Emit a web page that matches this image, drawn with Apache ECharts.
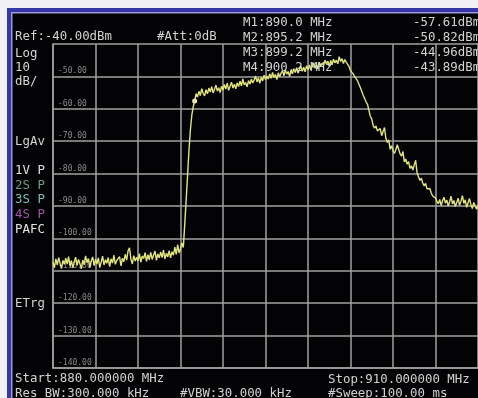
<!DOCTYPE html>
<html>
<head>
<meta charset="utf-8">
<script src="https://cdn.jsdelivr.net/npm/echarts@6/dist/echarts.min.js"></script>
<style>
  html, body { margin: 0; padding: 0; background: #f1f1f3; }
  #main { width: 478px; height: 398px; }
</style>
</head>
<body>
<div id="main"></div>
<script>
// sweep settings (MHz / dBm)
const startMHz = 880;
const stopMHz = 910;
const refLevel = -40;
const bottomLevel = -140;
const dbPerDiv = 10;
const mhzPerDiv = 3;

// trace, one value per sweep point (0.1 MHz apart)
const traceDbm = [
  // noise floor 880.0 - 889.1
  -107.4, -109.0, -106.3, -108.2, -105.9, -107.7, -109.3, -106.8, -108.0, -106.1,
  -107.9, -105.6, -108.6, -106.9, -109.1, -107.2, -105.8, -108.3, -106.5, -107.8,
  -109.4, -106.7, -108.1, -105.4, -107.5, -106.2, -108.9, -107.0, -105.7, -108.4,
  -106.4, -107.9, -106.0, -109.0, -107.3, -105.5, -108.2, -106.6, -107.7, -105.9,
  -108.7, -106.3, -107.6, -105.2, -108.0, -106.8, -107.4, -105.6, -108.5, -106.1,
  -107.2, -104.9, -106.7, -103.8, -102.9, -106.4, -107.9, -105.3, -107.0, -105.8,
  -106.9, -104.7, -107.3, -105.5, -106.2, -104.4, -107.1, -105.0, -106.6, -104.3,
  -106.5, -105.1, -103.9, -106.8, -104.8, -106.0, -104.2, -105.9, -103.6, -106.3,
  -104.6, -105.7, -103.8, -106.0, -104.1, -105.2, -102.7, -104.9, -101.9, -104.5,
  -103.2, -101.4,
  // rising edge 889.2 - 890.0
  -102.8, -95.6, -88.1, -80.4, -72.7, -66.4, -61.9, -59.3, -57.6,
  // channel 890.1 - 900.8
  -55.3, -56.4, -54.6, -55.9, -53.8, -55.2, -56.0, -54.1, -55.4, -53.6,
  -54.8, -53.2, -55.1, -54.0, -52.7, -54.5, -53.5, -55.0, -53.0, -54.2,
  -52.5, -53.9, -52.1, -54.3, -53.0, -51.8, -53.6, -52.4, -53.8, -52.0,
  -53.1, -51.5, -52.9, -50.8, -52.6, -51.9, -53.2, -51.3, -52.4, -50.9,
  -52.0, -51.1, -49.9, -51.7, -50.5, -52.1, -50.3, -51.4, -49.6, -51.0,
  -49.9, -50.82, -49.2, -50.6, -48.8, -50.3, -49.4, -51.0, -48.9, -50.1,
  -49.0, -48.2, -49.8, -47.9, -49.3, -48.5, -50.0, -48.1, -49.2, -47.6,
  -48.8, -47.3, -49.0, -47.8, -46.9, -48.4, -47.2, -48.6, -46.7, -47.9,
  -46.5, -48.0, -46.9, -45.8, -47.5, -46.3, -47.7, -45.6, -46.8, -45.9,
  -46.6, -44.96, -46.2, -45.3, -46.9, -45.1, -46.4, -44.7, -45.8, -45.0,
  -46.1, -43.89, -45.4, -44.5, -46.0, -44.8, -45.6, -46.3,
  // falling edge 900.9 - 907.0
  -47.0, -48.2, -47.6, -49.3, -50.1, -49.6, -51.4, -52.0, -53.5, -54.1,
  -55.8, -56.4, -57.9, -58.6, -60.5, -62.3, -63.1, -65.2, -66.0, -65.3,
  -66.8, -67.4, -66.1, -68.3, -67.0, -65.8, -69.2, -70.4, -69.6, -72.5,
  -71.4, -72.9, -73.8, -72.6, -71.1, -70.5, -73.9, -74.6, -73.2, -76.4,
  -75.5, -77.1, -76.3, -78.4, -77.6, -78.9, -77.3, -75.9, -79.8, -81.0,
  -82.1, -81.4, -82.9, -83.8, -83.0, -84.7, -85.3, -84.6, -86.0, -86.9,
  -86.3, -87.5,
  // upper floor 907.1 - 910.0
  -88.6, -89.3, -88.0, -89.9, -88.4, -87.3, -89.1, -88.2, -90.0, -88.7,
  -87.0, -89.4, -88.3, -90.2, -88.9, -87.6, -89.8, -88.5, -86.8, -89.2,
  -88.1, -90.4, -89.0, -87.7, -89.6, -90.8, -88.9, -89.9, -91.0, -89.7
];

const markerFreqs = [890.0, 895.2, 899.2, 900.2];
const markerDbm = [-57.61, -50.82, -44.96, -43.89];
const markerLabels = ["M1:890.0 MHz", "M2:895.2 MHz", "M3:899.2 MHz", "M4:900.2 MHz"];
const markerReadouts = ["-57.61dBm", "-50.82dBm", "-44.96dBm", "-43.89dBm"];

const sideLabels = [
  { text: "Log", y: 54, color: "#d4d4d4" },
  { text: "10", y: 68, color: "#d4d4d4" },
  { text: "dB/", y: 82, color: "#d4d4d4" },
  { text: "LgAv", y: 142, color: "#d4d4d4" },
  { text: "1V P", y: 171, color: "#e0e0e0" },
  { text: "2S P", y: 186, color: "#6f9a7c" },
  { text: "3S P", y: 200, color: "#7cbcb6" },
  { text: "4S P", y: 215, color: "#a452a8" },
  { text: "PAFC", y: 230, color: "#e4e4e4" },
  { text: "ETrg", y: 304, color: "#d4d4d4" }
];

const step = (stopMHz - startMHz) / (traceDbm.length - 1);
const tracePoints = traceDbm.map((v, i) => [startMHz + i * step, v]);

const font = '12.4px "DejaVu Sans Mono"';
const txt = "#d2d2d2";

function label(text, x, y, color) {
  return {
    type: "text",
    z: 10,
    style: { text: text, x: x, y: y, fill: color || txt, font: font, align: "left", verticalAlign: "middle" }
  };
}

const graphics = [
  // screen frame
  { type: "rect", z: -3, shape: { x: 7, y: 8, width: 480, height: 400 }, style: { fill: "#3636a6" } },
  { type: "rect", z: -2, shape: { x: 11, y: 12, width: 480, height: 400 }, style: { fill: "#9a9ad8" } },
  { type: "rect", z: -1, shape: { x: 12.5, y: 13.5, width: 480, height: 400 }, style: { fill: "#030305" } },

  label("Ref:-40.00dBm", 15, 37),
  label("#Att:0dB", 157, 37),
  label("Start:880.000000 MHz", 15, 379),
  label("Res BW:300.000 kHz", 15, 394),
  label("#VBW:30.000 kHz", 180, 394),
  label("Stop:910.000000 MHz", 328, 380),
  label("#Sweep:100.00 ms", 328, 394)
];
markerLabels.forEach((t, i) => graphics.push(label(t, 243, 23 + i * 15)));
markerReadouts.forEach((t, i) => graphics.push(label(t, 413, 23 + i * 15)));
sideLabels.forEach(s => graphics.push(label(s.text, 15, s.y, s.color)));

const gridLine = { color: "#a2a2a2", width: 1.5 };

const chart = echarts.init(document.getElementById("main"));
chart.setOption({
  animation: false,
  backgroundColor: "transparent",
  graphic: graphics,
  grid: { left: 53, top: 44, width: 428, height: 324 },
  xAxis: {
    type: "value",
    min: startMHz,
    max: stopMHz,
    interval: mhzPerDiv,
    axisLine: { show: true, lineStyle: gridLine },
    axisTick: { show: false },
    axisLabel: { show: false },
    splitLine: { show: true, lineStyle: gridLine }
  },
  yAxis: {
    type: "value",
    min: bottomLevel,
    max: refLevel,
    interval: dbPerDiv,
    axisLine: { show: true, lineStyle: gridLine },
    axisTick: { show: false },
    splitLine: { show: true, lineStyle: gridLine },
    axisLabel: {
      inside: true,
      margin: 5,
      fontSize: 8,
      fontFamily: "DejaVu Sans Mono",
      color: "#8a8a8a",
      verticalAlign: "bottom",
      lineHeight: 10,
      formatter: v => (v === refLevel ? "" : v.toFixed(2))
    }
  },
  series: [
    {
      type: "line",
      data: tracePoints,
      showSymbol: false,
      lineStyle: { color: "#e2e47e", width: 1.4 },
      z: 5,
      markPoint: {
        symbol: "circle",
        symbolSize: 5,
        itemStyle: { color: "#f6f6c8" },
        label: { show: false },
        data: [{ coord: [markerFreqs[0], markerDbm[0]] }]
      }
    }
  ]
});
</script>
</body>
</html>
